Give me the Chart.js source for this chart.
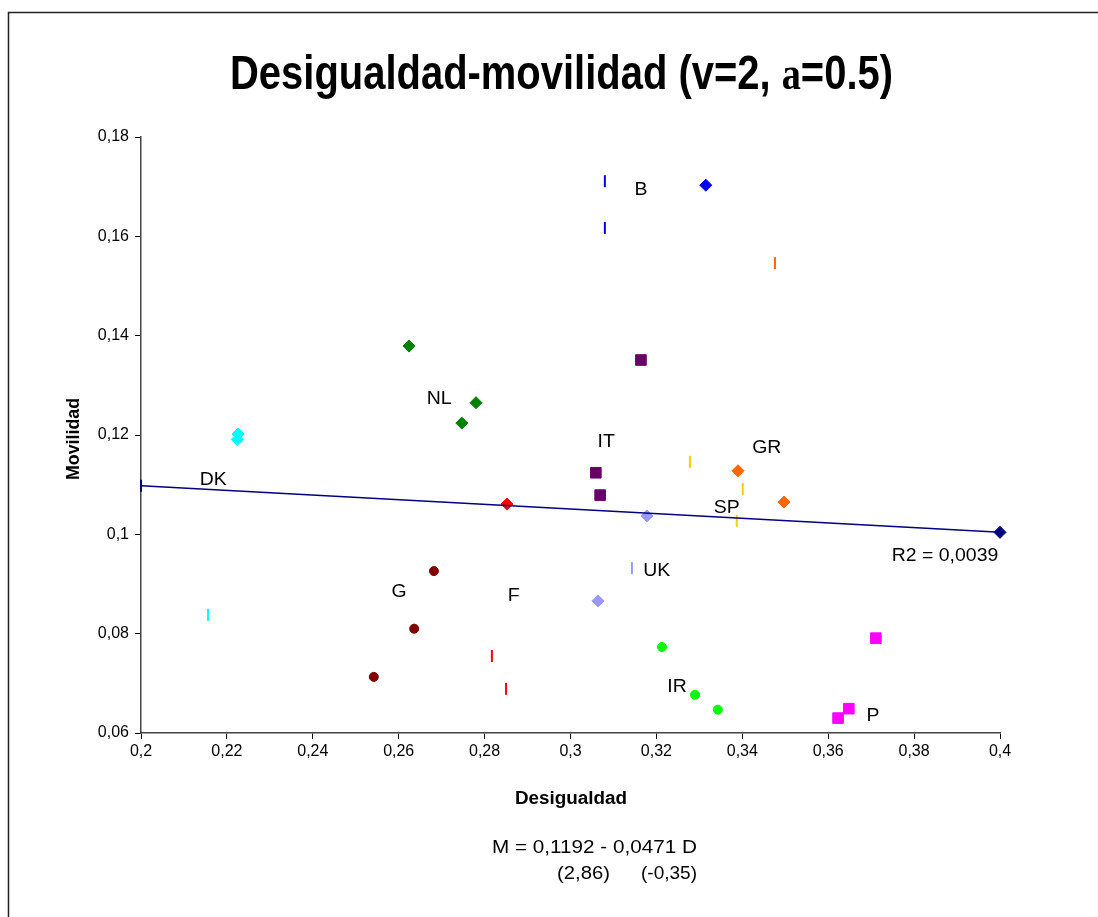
<!DOCTYPE html>
<html lang="es">
<head>
<meta charset="UTF-8">
<title>Desigualdad-movilidad</title>
<script src="https://cdn.jsdelivr.net/npm/chart.js"></script>
<style>
    body { margin: 0; background: #fff; }
    #wrap { width: 1098px; height: 917px; position: relative; }
</style>
</head>
<body>
<div id="wrap"><canvas id="myChart"></canvas></div>
<script>
    // ticks
    const xTicks = ['0,2', '0,22', '0,24', '0,26', '0,28', '0,3', '0,32', '0,34', '0,36', '0,38', '0,4'];
    const yTicks = ['0,06', '0,08', '0,1', '0,12', '0,14', '0,16', '0,18'];

    // points per country (x = desigualdad, y = movilidad)
    const bDash = [{x: 0.308, y: 0.1711}, {x: 0.308, y: 0.1617}];
    const bDiam = [{x: 0.3315, y: 0.1703}];
    const grDash = [{x: 0.3476, y: 0.1546}];
    const grDiam = [{x: 0.339, y: 0.1128}, {x: 0.3497, y: 0.1065}];
    const itSq = [{x: 0.3164, y: 0.1351}, {x: 0.3059, y: 0.1124}, {x: 0.3069, y: 0.1079}];
    const nlDiam = [{x: 0.2624, y: 0.1379}, {x: 0.278, y: 0.1265}, {x: 0.2747, y: 0.1224}];
    const dkDiam = [{x: 0.2226, y: 0.1202}, {x: 0.2224, y: 0.1191}];
    const dkDash = [{x: 0.2156, y: 0.0838}];
    const fDiam = [{x: 0.2852, y: 0.1061}];
    const fDash = [{x: 0.2817, y: 0.0755}, {x: 0.285, y: 0.0689}];
    const ukDiam = [{x: 0.3178, y: 0.1037}, {x: 0.3064, y: 0.0866}];
    const ukDash = [{x: 0.3143, y: 0.0932}];
    const spDash = [{x: 0.3278, y: 0.1146}, {x: 0.3401, y: 0.1091}, {x: 0.3387, y: 0.1027}];
    const gCirc = [{x: 0.2682, y: 0.0926}, {x: 0.2636, y: 0.081}, {x: 0.2542, y: 0.0713}];
    const irCirc = [{x: 0.3213, y: 0.0773}, {x: 0.329, y: 0.0677}, {x: 0.3343, y: 0.0647}];
    const pSq = [{x: 0.3711, y: 0.0791}, {x: 0.3648, y: 0.0649}, {x: 0.3623, y: 0.063}];
    const avgDash = [{x: 0.2, y: 0.1098}];
    const avgDiam = [{x: 0.4, y: 0.1004}];

    // regression M = 0,1192 - 0,0471 D
    const trendLine = [{x: 0.2, y: 0.1098}, {x: 0.4, y: 0.1004}];

    // labels on the plot
    const labelText = ['B', 'NL', 'IT', 'GR', 'SP', 'DK', 'R2 = 0,0039', 'G', 'F', 'UK', 'IR', 'P'];
    const labelX = [0.3164, 0.2694, 0.3083, 0.3457, 0.3364, 0.2168, 0.3872, 0.2601, 0.2868, 0.3201, 0.3248, 0.3704];
    const labelY = [0.1693, 0.1273, 0.1186, 0.1174, 0.1053, 0.1110, 0.0957, 0.0884, 0.0876, 0.0926, 0.0693, 0.0634];

    function tickNum(s) { return parseFloat(s.replace(',', '.')); }

    function serie(data, color, style) {
        var d = {type: 'scatter', data: data, clip: false, backgroundColor: color, borderColor: color};
        if (style === 'dash') {
            d.pointStyle = 'line'; d.rotation = 90; d.pointRadius = 6; d.borderWidth = 2;
        } else if (style === 'diam') {
            d.pointStyle = 'rectRot'; d.pointRadius = 6; d.borderWidth = 1;
        } else if (style === 'sq') {
            d.pointStyle = 'rect'; d.pointRadius = 7.5; d.borderWidth = 1;
        } else {
            d.pointStyle = 'circle'; d.pointRadius = 4.5; d.borderWidth = 1;
        }
        d.pointHoverRadius = d.pointRadius;
        return d;
    }

    // texto estirado/comprimido a un ancho dado
    function textoAncho(ctx, txt, x, y, ancho) {
        const w = ctx.measureText(txt).width;
        ctx.save();
        ctx.translate(x, y);
        ctx.scale(ancho / w, 1);
        ctx.fillText(txt, 0, 0);
        ctx.restore();
    }

    const textos = {
        id: 'textos',
        beforeDraw(chart) {
            const ctx = chart.ctx;
            ctx.save();
            ctx.fillStyle = '#fff';
            ctx.fillRect(0, 0, chart.width, chart.height);
            ctx.restore();
        },
        afterDraw(chart) {
            const ctx = chart.ctx;
            const sx = chart.scales.x, sy = chart.scales.y;
            ctx.save();
            // marco
            ctx.strokeStyle = '#222';
            ctx.lineWidth = 1.5;
            ctx.beginPath();
            ctx.moveTo(8.5, 917);
            ctx.lineTo(8.5, 12.5);
            ctx.lineTo(1098, 12.5);
            ctx.stroke();

            // titulo con la alfa en otra fuente
            const p1 = 'Desigualdad-movilidad (v=2, ', p2 = 'a', p3 = '=0.5)';
            const f1 = 'bold 48px "Liberation Sans", Arial, sans-serif';
            const f2 = 'bold 46px "Liberation Serif", "Times New Roman", serif';
            ctx.font = f1;
            const w1 = ctx.measureText(p1).width, w3 = ctx.measureText(p3).width;
            ctx.font = f2;
            const w2 = ctx.measureText(p2).width;
            const total = w1 + w2 + w3;
            const k = 663 / total;
            ctx.save();
            ctx.translate(230, 89);
            ctx.scale(k, 1);
            ctx.fillStyle = '#000';
            ctx.textBaseline = 'alphabetic';
            ctx.textAlign = 'left';
            ctx.font = f1; ctx.fillText(p1, 0, 0);
            ctx.font = f2; ctx.fillText(p2, w1, 0);
            ctx.font = f1; ctx.fillText(p3, w1 + w2, 0);
            ctx.restore();

            // titulos de ejes
            ctx.fillStyle = '#000';
            ctx.font = 'bold 18px "Liberation Sans", Arial, sans-serif';
            ctx.textAlign = 'left';
            ctx.textBaseline = 'middle';
            textoAncho(ctx, 'Desigualdad', 515, 799, 112);
            ctx.save();
            ctx.translate(74, 480);
            ctx.rotate(-Math.PI / 2);
            textoAncho(ctx, 'Movilidad', 0, 0, 82);
            ctx.restore();

            // ecuacion
            ctx.font = '18px "Liberation Sans", Arial, sans-serif';
            textoAncho(ctx, 'M = 0,1192 - 0,0471 D', 492, 848, 205);
            textoAncho(ctx, '(2,86)', 557, 874, 53);
            textoAncho(ctx, '(-0,35)', 641, 874, 56);

            // etiquetas de paises
            ctx.font = '18px "Liberation Sans", Arial, sans-serif';
            for (let i = 0; i < labelText.length; i++) {
                const w = ctx.measureText(labelText[i]).width * 1.08;
                textoAncho(ctx, labelText[i], sx.getPixelForValue(labelX[i]) - w / 2, sy.getPixelForValue(labelY[i]), w);
            }
            ctx.restore();
        }
    };

    const datasets = [
        {type: 'line', data: trendLine, borderColor: '#000080', borderWidth: 1.5, pointRadius: 0, pointHoverRadius: 0, fill: false, clip: false},
        serie(bDash, '#0000ff', 'dash'),
        serie(bDiam, '#0000ff', 'diam'),
        serie(grDash, '#ff6600', 'dash'),
        serie(grDiam, '#ff6600', 'diam'),
        serie(itSq, '#660066', 'sq'),
        serie(nlDiam, '#008000', 'diam'),
        serie(dkDiam, '#00ffff', 'diam'),
        serie(dkDash, '#00ffff', 'dash'),
        serie(fDiam, '#ff0000', 'diam'),
        serie(fDash, '#ff0000', 'dash'),
        serie(ukDiam, '#9999ff', 'diam'),
        serie(ukDash, '#9999ff', 'dash'),
        serie(spDash, '#ffcc00', 'dash'),
        serie(gCirc, '#800000', 'circ'),
        serie(irCirc, '#00ff00', 'circ'),
        serie(pSq, '#ff00ff', 'sq'),
        serie(avgDash, '#000080', 'dash'),
        serie(avgDiam, '#000080', 'diam')
    ];

    const tickFont = {family: '"Liberation Sans", Arial, sans-serif', size: 16};

    new Chart(document.getElementById('myChart'), {
        type: 'scatter',
        data: {datasets: datasets},
        options: {
            responsive: true,
            maintainAspectRatio: false,
            animation: false,
            layout: {padding: {top: 137, right: 98, left: 0, bottom: 0}},
            plugins: {legend: {display: false}, tooltip: {enabled: false}, title: {display: false}},
            scales: {
                x: {
                    type: 'linear',
                    min: tickNum(xTicks[0]),
                    max: tickNum(xTicks[xTicks.length - 1]),
                    afterBuildTicks: (s) => { s.ticks = xTicks.map(t => ({value: tickNum(t)})); },
                    afterFit: (s) => { s.height = 184; },
                    grid: {display: true, drawOnChartArea: false, drawTicks: true, tickLength: 6, color: '#000'},
                    border: {display: true, color: '#444', width: 1.5},
                    ticks: {color: '#000', font: tickFont, padding: 3, maxRotation: 0, autoSkip: false,
                        callback: (v, i) => xTicks[i]}
                },
                y: {
                    type: 'linear',
                    min: tickNum(yTicks[0]),
                    max: tickNum(yTicks[yTicks.length - 1]),
                    afterBuildTicks: (s) => { s.ticks = yTicks.map(t => ({value: tickNum(t)})); },
                    afterFit: (s) => { s.width = 141; },
                    grid: {display: true, drawOnChartArea: false, drawTicks: true, tickLength: 6, color: '#000'},
                    border: {display: true, color: '#444', width: 1.5},
                    ticks: {color: '#000', font: tickFont, padding: 6, autoSkip: false,
                        callback: (v, i) => yTicks[i]}
                }
            }
        },
        plugins: [textos]
    });
</script>
</body>
</html>
